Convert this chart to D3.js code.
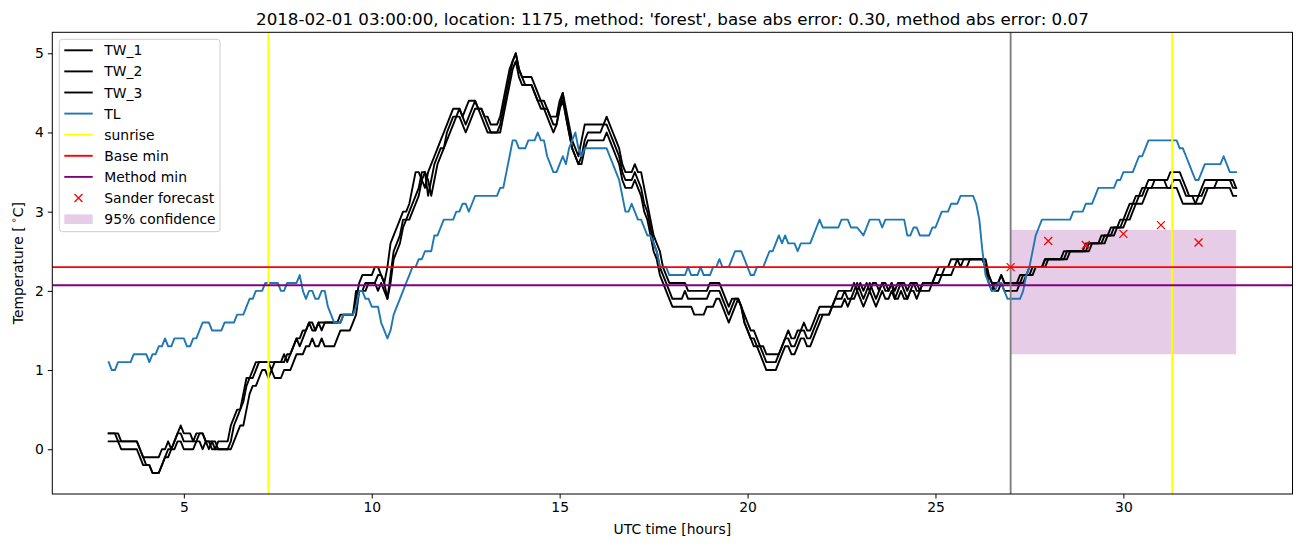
<!DOCTYPE html>
<html><head><meta charset="utf-8">
<script src="https://cdn.jsdelivr.net/npm/d3@7"></script>
<style>
body{margin:0;background:#fff;}
text{font-family:"DejaVu Sans",sans-serif;fill:#000;}
</style></head>
<body><svg id="c" width="1302" height="547"></svg>
<script>
// ---- data (hour of day UTC, temperature °C) ----
const tw1 = [[3.0,0.2],[3.25,0.2],[3.333,0.1],[3.75,0.1],[3.833,0.0],[3.917,-0.1],[4.333,-0.1],[4.417,0.0],[4.5,0.0],[4.583,0.1],[4.667,0.0],[4.75,0.1],[4.833,0.2],[4.917,0.3],[5.0,0.2],[5.167,0.2],[5.25,0.1],[5.333,0.2],[5.5,0.2],[5.583,0.1],[5.75,0.1],[5.833,0.0],[5.917,0.1],[6.167,0.1],[6.25,0.3],[6.333,0.4],[6.417,0.5],[6.5,0.5],[6.583,0.7],[6.667,0.9],[6.75,0.9],[6.833,1.0],[6.917,1.1],[7.583,1.1],[7.667,1.2],[7.75,1.1],[7.833,1.2],[7.917,1.3],[8.0,1.4],[8.083,1.4],[8.167,1.5],[8.25,1.5],[8.333,1.6],[8.417,1.6],[8.5,1.5],[8.583,1.6],[9.083,1.6],[9.167,1.7],[9.5,1.7],[9.583,1.9],[9.667,2.1],[9.75,2.2],[10.0,2.2],[10.083,2.3],[10.167,2.3],[10.25,2.2],[10.333,2.1],[10.417,2.3],[10.5,2.6],[10.583,2.7],[10.667,2.8],[10.75,2.9],[10.833,3.0],[10.917,3.0],[11.0,3.1],[11.083,3.3],[11.167,3.5],[11.25,3.5],[11.333,3.4],[11.417,3.3],[11.5,3.5],[11.583,3.6],[11.667,3.7],[11.75,3.8],[11.833,3.9],[11.917,4.0],[12.0,4.1],[12.083,4.2],[12.167,4.3],[12.333,4.3],[12.417,4.2],[12.5,4.3],[12.583,4.4],[12.75,4.4],[12.833,4.3],[12.917,4.3],[13.0,4.2],[13.083,4.2],[13.167,4.1],[13.333,4.1],[13.417,4.2],[13.5,4.4],[13.583,4.6],[13.667,4.8],[13.75,4.9],[13.833,5.0],[13.917,4.8],[14.0,4.7],[14.25,4.7],[14.333,4.6],[14.417,4.5],[14.5,4.4],[14.583,4.4],[14.667,4.3],[14.75,4.2],[14.917,4.2],[15.0,4.4],[15.083,4.5],[15.167,4.3],[15.25,4.1],[15.333,3.9],[15.417,3.8],[15.5,3.7],[15.583,3.9],[15.667,4.1],[16.167,4.1],[16.25,4.2],[16.333,4.1],[16.417,4.0],[16.5,3.9],[16.583,3.8],[16.667,3.6],[16.75,3.5],[16.917,3.5],[17.0,3.6],[17.083,3.5],[17.167,3.5],[17.25,3.3],[17.333,3.1],[17.417,2.9],[17.5,2.7],[17.583,2.6],[17.667,2.5],[17.75,2.3],[17.833,2.2],[17.917,2.1],[18.333,2.1],[18.417,2.0],[18.917,2.0],[19.0,2.1],[19.25,2.1],[19.333,2.0],[19.417,1.9],[19.5,1.8],[19.583,1.9],[19.75,1.9],[19.833,1.8],[19.917,1.7],[20.0,1.6],[20.083,1.5],[20.167,1.5],[20.25,1.4],[20.333,1.3],[20.417,1.3],[20.5,1.2],[20.833,1.2],[20.917,1.3],[21.0,1.4],[21.083,1.5],[21.167,1.4],[21.25,1.4],[21.333,1.5],[21.417,1.5],[21.5,1.6],[21.583,1.5],[21.667,1.5],[21.75,1.6],[21.833,1.7],[21.917,1.8],[22.25,1.8],[22.333,1.9],[22.417,2.0],[22.75,2.0],[22.833,2.1],[22.917,2.0],[23.0,2.1],[23.083,2.0],[23.167,2.1],[23.25,2.0],[23.333,2.1],[23.417,2.1],[23.5,2.0],[23.583,2.1],[23.667,2.1],[23.75,2.0],[23.833,2.1],[23.917,2.0],[24.0,2.1],[24.167,2.1],[24.25,2.0],[24.333,2.1],[24.5,2.1],[24.583,2.0],[24.667,2.1],[24.917,2.1],[25.0,2.2],[25.083,2.3],[25.333,2.3],[25.417,2.4],[26.25,2.4],[26.333,2.3],[26.417,2.2],[26.5,2.1],[26.667,2.1],[26.75,2.2],[26.833,2.1],[27.25,2.1],[27.333,2.2],[27.5,2.2],[27.583,2.3],[27.833,2.3],[27.917,2.4],[28.333,2.4],[28.417,2.5],[28.917,2.5],[29.0,2.6],[29.333,2.6],[29.417,2.7],[29.583,2.7],[29.667,2.8],[29.833,2.8],[29.917,2.9],[30.0,2.9],[30.083,3.0],[30.167,3.1],[30.25,3.1],[30.333,3.2],[30.417,3.2],[30.5,3.3],[30.583,3.3],[30.667,3.4],[31.167,3.4],[31.25,3.5],[31.5,3.5],[31.583,3.4],[31.667,3.3],[31.75,3.2],[32.0,3.2],[32.083,3.3],[32.167,3.4],[32.917,3.4],[33.0,3.3]];

const tw2 = [[3.0,0.2],[3.167,0.2],[3.25,0.1],[3.333,0.0],[3.75,0.0],[3.833,-0.1],[3.917,-0.2],[4.083,-0.2],[4.167,-0.3],[4.333,-0.3],[4.417,-0.2],[4.5,-0.1],[4.583,0.0],[4.667,0.0],[4.75,0.1],[4.833,0.2],[4.917,0.2],[5.0,0.1],[5.333,0.1],[5.417,0.2],[5.5,0.2],[5.583,0.1],[5.667,0.0],[5.75,0.1],[5.833,0.1],[5.917,0.0],[6.167,0.0],[6.25,0.1],[6.333,0.3],[6.417,0.4],[6.5,0.5],[6.583,0.6],[6.667,0.8],[6.75,0.9],[6.833,0.9],[6.917,1.0],[7.0,1.1],[7.25,1.1],[7.333,1.0],[7.417,1.1],[7.667,1.1],[7.75,1.2],[7.833,1.2],[7.917,1.3],[8.0,1.4],[8.083,1.3],[8.167,1.4],[8.25,1.5],[8.333,1.6],[8.417,1.5],[8.5,1.5],[8.583,1.6],[8.667,1.5],[8.75,1.6],[9.167,1.6],[9.25,1.7],[9.5,1.7],[9.583,2.0],[9.75,2.0],[9.833,2.1],[10.083,2.1],[10.167,2.2],[10.25,2.2],[10.333,2.1],[10.417,1.9],[10.5,2.2],[10.583,2.5],[10.667,2.6],[10.75,2.7],[10.833,2.9],[10.917,2.9],[11.0,3.0],[11.083,3.1],[11.167,3.2],[11.25,3.3],[11.333,3.5],[11.417,3.5],[11.5,3.2],[11.583,3.4],[11.667,3.6],[11.75,3.7],[11.833,3.8],[11.917,3.8],[12.0,4.0],[12.083,4.1],[12.167,4.2],[12.25,4.2],[12.333,4.3],[12.417,4.2],[12.5,4.1],[12.583,4.2],[12.667,4.3],[12.75,4.4],[12.833,4.3],[12.917,4.3],[13.0,4.2],[13.083,4.1],[13.167,4.0],[13.333,4.0],[13.417,4.1],[13.5,4.3],[13.583,4.5],[13.667,4.7],[13.75,4.9],[13.833,5.0],[13.917,4.8],[14.0,4.7],[14.083,4.6],[14.25,4.6],[14.333,4.5],[14.417,4.4],[14.5,4.4],[14.583,4.3],[14.667,4.3],[14.75,4.2],[14.833,4.1],[14.917,4.1],[15.0,4.3],[15.083,4.5],[15.167,4.2],[15.25,4.0],[15.333,3.8],[15.417,3.7],[15.5,3.6],[15.583,3.7],[15.667,3.9],[15.75,4.0],[16.083,4.0],[16.167,4.1],[16.25,4.1],[16.333,4.0],[16.417,3.9],[16.5,3.8],[16.583,3.7],[16.667,3.5],[16.75,3.4],[16.917,3.4],[17.0,3.5],[17.083,3.4],[17.167,3.3],[17.25,3.1],[17.333,3.0],[17.417,2.8],[17.5,2.6],[17.583,2.5],[17.667,2.3],[17.75,2.2],[17.833,2.1],[17.917,2.0],[18.0,1.9],[18.25,1.9],[18.333,2.0],[18.417,1.9],[18.917,1.9],[19.0,2.0],[19.25,2.0],[19.333,1.9],[19.417,1.8],[19.5,1.7],[19.583,1.8],[19.667,1.9],[19.75,1.9],[19.833,1.8],[19.917,1.6],[20.0,1.5],[20.083,1.4],[20.167,1.4],[20.25,1.3],[20.333,1.3],[20.417,1.2],[20.5,1.1],[20.75,1.1],[20.833,1.2],[20.917,1.3],[21.0,1.4],[21.083,1.4],[21.167,1.3],[21.25,1.3],[21.333,1.4],[21.417,1.5],[21.5,1.5],[21.583,1.4],[21.667,1.4],[21.75,1.5],[21.833,1.6],[21.917,1.7],[22.167,1.7],[22.25,1.8],[22.333,1.9],[22.5,1.9],[22.583,2.0],[22.667,1.9],[22.75,1.9],[22.833,2.0],[22.917,2.1],[23.0,2.0],[23.083,1.9],[23.167,2.0],[23.25,2.1],[23.333,2.0],[23.417,1.9],[23.5,2.0],[23.583,2.1],[23.667,2.0],[23.75,2.0],[23.833,2.1],[23.917,1.9],[24.0,2.0],[24.083,2.1],[24.167,2.0],[24.25,1.9],[24.333,2.0],[24.417,2.1],[24.5,2.0],[24.583,2.0],[24.667,2.1],[24.917,2.1],[25.0,2.2],[25.167,2.2],[25.25,2.3],[25.5,2.3],[25.583,2.4],[25.667,2.3],[25.75,2.4],[26.25,2.4],[26.333,2.3],[26.417,2.1],[26.5,2.0],[26.583,2.1],[26.667,2.1],[26.75,2.2],[26.833,2.1],[27.167,2.1],[27.25,2.2],[27.417,2.2],[27.5,2.3],[27.833,2.3],[27.917,2.4],[28.417,2.4],[28.5,2.5],[29.0,2.5],[29.083,2.6],[29.417,2.6],[29.5,2.7],[29.667,2.7],[29.75,2.8],[29.917,2.8],[30.0,2.9],[30.083,2.9],[30.167,3.0],[30.25,3.1],[30.333,3.1],[30.417,3.2],[30.5,3.2],[30.583,3.3],[30.75,3.3],[30.833,3.4],[31.083,3.4],[31.167,3.3],[31.25,3.3],[31.333,3.4],[31.5,3.4],[31.583,3.3],[31.667,3.2],[31.833,3.2],[31.917,3.1],[32.083,3.1],[32.167,3.2],[32.25,3.3],[32.417,3.3],[32.5,3.4],[32.833,3.4],[32.917,3.3],[33.0,3.3]];

const tw3 = [[3.0,0.1],[3.75,0.1],[3.833,0.0],[3.917,-0.1],[4.0,-0.2],[4.083,-0.2],[4.167,-0.3],[4.333,-0.3],[4.417,-0.2],[4.5,-0.1],[4.583,-0.1],[4.667,0.0],[4.75,0.0],[4.833,0.1],[4.917,0.1],[5.0,0.0],[5.25,0.0],[5.333,0.1],[5.417,0.1],[5.5,0.0],[5.583,0.1],[5.667,0.1],[5.75,0.0],[6.25,0.0],[6.333,0.1],[6.417,0.2],[6.5,0.3],[6.583,0.3],[6.667,0.5],[6.75,0.7],[6.833,0.8],[6.917,0.8],[7.0,0.9],[7.083,1.0],[7.167,1.0],[7.25,0.9],[7.333,1.0],[7.417,0.9],[7.583,0.9],[7.667,1.0],[7.833,1.0],[7.917,1.1],[8.0,1.2],[8.167,1.2],[8.25,1.3],[8.333,1.3],[8.417,1.4],[8.5,1.3],[8.583,1.3],[8.667,1.4],[8.75,1.3],[9.0,1.3],[9.083,1.4],[9.167,1.5],[9.417,1.5],[9.5,1.6],[9.583,1.7],[9.667,2.0],[9.833,2.0],[9.917,2.1],[10.083,2.1],[10.167,2.0],[10.25,2.1],[10.333,2.0],[10.417,1.9],[10.5,2.1],[10.583,2.4],[10.667,2.5],[10.75,2.6],[10.833,2.8],[10.917,2.9],[11.0,2.9],[11.083,3.0],[11.167,3.1],[11.25,3.2],[11.333,3.4],[11.417,3.5],[11.5,3.4],[11.583,3.2],[11.667,3.4],[11.75,3.6],[11.833,3.7],[11.917,3.8],[12.0,3.9],[12.083,4.0],[12.167,4.1],[12.25,4.2],[12.333,4.2],[12.417,4.1],[12.5,4.0],[12.583,4.1],[12.667,4.2],[12.75,4.3],[12.833,4.3],[12.917,4.2],[13.0,4.1],[13.083,4.0],[13.417,4.0],[13.5,4.2],[13.583,4.4],[13.667,4.6],[13.75,4.8],[13.833,4.9],[13.917,4.7],[14.0,4.6],[14.25,4.6],[14.333,4.5],[14.417,4.4],[14.5,4.3],[14.583,4.3],[14.667,4.2],[14.75,4.1],[14.833,4.0],[14.917,4.1],[15.0,4.3],[15.083,4.4],[15.167,4.2],[15.25,4.0],[15.333,3.8],[15.417,3.7],[15.5,3.6],[15.583,3.6],[15.667,3.8],[15.75,3.9],[16.167,3.9],[16.25,4.0],[16.333,3.9],[16.417,3.8],[16.5,3.7],[16.583,3.6],[16.667,3.4],[16.75,3.3],[16.917,3.3],[17.0,3.4],[17.083,3.3],[17.167,3.2],[17.25,3.0],[17.333,2.9],[17.417,2.7],[17.5,2.5],[17.583,2.4],[17.667,2.2],[17.75,2.1],[17.833,2.0],[17.917,1.9],[18.0,1.8],[18.5,1.8],[18.583,1.7],[18.833,1.7],[18.917,1.8],[19.083,1.8],[19.167,1.9],[19.25,1.9],[19.333,1.8],[19.417,1.7],[19.5,1.6],[19.583,1.7],[19.667,1.8],[19.75,1.9],[19.833,1.8],[19.917,1.6],[20.0,1.5],[20.083,1.4],[20.167,1.3],[20.25,1.3],[20.333,1.2],[20.417,1.1],[20.5,1.0],[20.75,1.0],[20.833,1.1],[20.917,1.2],[21.0,1.3],[21.083,1.3],[21.167,1.2],[21.25,1.2],[21.333,1.3],[21.417,1.4],[21.5,1.4],[21.583,1.3],[21.667,1.3],[21.75,1.4],[21.833,1.5],[21.917,1.6],[22.0,1.7],[22.167,1.7],[22.25,1.8],[22.5,1.8],[22.583,1.9],[22.667,1.8],[22.75,1.9],[22.833,1.9],[22.917,2.0],[23.0,1.9],[23.083,1.8],[23.167,1.9],[23.25,2.0],[23.333,1.9],[23.417,1.8],[23.5,1.9],[23.583,2.0],[23.667,1.9],[23.75,1.9],[23.833,2.0],[23.917,1.9],[24.0,1.9],[24.083,2.0],[24.167,1.9],[24.25,1.9],[24.333,2.0],[24.417,2.0],[24.5,1.9],[24.583,2.0],[24.833,2.0],[24.917,2.1],[25.083,2.1],[25.167,2.2],[25.417,2.2],[25.5,2.3],[25.833,2.3],[25.917,2.4],[26.333,2.4],[26.417,2.2],[26.5,2.1],[26.583,2.0],[26.667,2.0],[26.75,2.1],[26.833,2.0],[27.167,2.0],[27.25,2.1],[27.333,2.1],[27.417,2.2],[27.583,2.2],[27.667,2.3],[27.917,2.3],[28.0,2.4],[28.5,2.4],[28.583,2.5],[29.083,2.5],[29.167,2.6],[29.5,2.6],[29.583,2.7],[29.75,2.7],[29.833,2.8],[30.0,2.8],[30.083,2.9],[30.167,2.9],[30.25,3.0],[30.333,3.1],[30.5,3.1],[30.583,3.2],[30.667,3.3],[31.417,3.3],[31.5,3.2],[31.583,3.1],[31.917,3.1],[32.0,3.2],[32.083,3.2],[32.167,3.3],[32.833,3.3],[32.917,3.2],[33.0,3.2]];

const tl = [[3.0,1.1],[3.083,1.0],[3.167,1.0],[3.25,1.1],[3.583,1.1],[3.667,1.2],[4.0,1.2],[4.083,1.1],[4.167,1.2],[4.25,1.2],[4.333,1.3],[4.417,1.3],[4.5,1.4],[4.583,1.3],[4.667,1.3],[4.75,1.4],[5.0,1.4],[5.083,1.3],[5.167,1.3],[5.25,1.4],[5.333,1.4],[5.417,1.5],[5.5,1.6],[5.667,1.6],[5.75,1.5],[6.0,1.5],[6.083,1.6],[6.333,1.6],[6.417,1.7],[6.583,1.7],[6.667,1.8],[6.75,1.9],[6.833,1.9],[6.917,2.0],[7.083,2.0],[7.167,2.1],[7.5,2.1],[7.583,2.0],[7.667,2.0],[7.75,2.1],[8.0,2.1],[8.083,2.2],[8.167,2.0],[8.25,1.9],[8.333,2.0],[8.417,2.0],[8.5,1.9],[8.583,1.9],[8.667,2.0],[8.75,2.0],[8.833,1.8],[8.917,1.7],[9.0,1.6],[9.167,1.6],[9.25,1.7],[9.5,1.7],[9.583,1.8],[9.667,2.0],[9.75,2.0],[9.833,1.9],[9.917,1.9],[10.0,1.8],[10.167,1.8],[10.25,1.6],[10.333,1.5],[10.417,1.4],[10.5,1.5],[10.583,1.7],[10.667,1.8],[10.75,1.9],[10.833,2.0],[10.917,2.1],[11.0,2.2],[11.083,2.3],[11.167,2.3],[11.25,2.4],[11.333,2.4],[11.417,2.5],[11.583,2.5],[11.667,2.7],[11.75,2.7],[11.833,2.8],[11.917,2.9],[12.167,2.9],[12.25,3.0],[12.333,3.0],[12.417,3.1],[12.5,3.1],[12.583,3.0],[12.667,3.1],[12.75,3.2],[13.333,3.2],[13.417,3.3],[13.5,3.3],[13.583,3.5],[13.667,3.7],[13.75,3.9],[13.833,3.9],[13.917,3.8],[14.083,3.8],[14.167,3.9],[14.333,3.9],[14.417,4.0],[14.5,3.9],[14.583,3.9],[14.667,3.7],[14.75,3.6],[14.833,3.5],[14.917,3.5],[15.0,3.6],[15.083,3.7],[15.167,3.6],[15.25,3.8],[15.333,3.9],[15.417,4.0],[15.5,3.8],[15.583,3.7],[15.667,3.8],[16.25,3.8],[16.333,3.7],[16.417,3.6],[16.5,3.5],[16.583,3.4],[16.667,3.2],[16.75,3.0],[16.833,3.0],[16.917,3.1],[17.0,3.0],[17.083,2.9],[17.167,2.9],[17.25,2.8],[17.333,2.7],[17.417,2.7],[17.5,2.6],[17.583,2.5],[17.667,2.3],[17.833,2.3],[17.917,2.2],[18.333,2.2],[18.417,2.3],[18.5,2.2],[18.667,2.2],[18.75,2.3],[18.833,2.2],[19.0,2.2],[19.083,2.3],[19.167,2.3],[19.25,2.4],[19.333,2.3],[19.5,2.3],[19.583,2.4],[19.667,2.5],[19.833,2.5],[19.917,2.4],[20.0,2.3],[20.083,2.2],[20.167,2.2],[20.25,2.3],[20.417,2.3],[20.5,2.4],[20.583,2.5],[20.667,2.5],[20.75,2.6],[20.833,2.7],[20.917,2.6],[21.0,2.7],[21.083,2.6],[21.25,2.6],[21.333,2.5],[21.417,2.6],[21.667,2.6],[21.75,2.7],[21.833,2.8],[21.917,2.9],[22.0,2.8],[22.417,2.8],[22.5,2.9],[22.667,2.9],[22.75,2.8],[22.917,2.8],[23.083,2.7],[23.167,2.8],[23.25,2.9],[23.5,2.9],[23.583,2.8],[23.667,2.9],[24.167,2.9],[24.25,2.7],[24.333,2.7],[24.417,2.8],[24.5,2.8],[24.583,2.7],[24.833,2.7],[24.917,2.8],[25.0,2.8],[25.083,2.9],[25.167,3.0],[25.333,3.0],[25.417,3.1],[25.583,3.1],[25.667,3.2],[26.0,3.2],[26.083,3.1],[26.167,2.9],[26.25,2.5],[26.333,2.2],[26.417,2.1],[26.5,2.0],[26.583,2.0],[26.667,2.1],[26.75,2.1],[26.833,2.0],[26.917,1.9],[27.25,1.9],[27.333,2.0],[27.417,2.2],[27.5,2.3],[27.583,2.5],[27.667,2.7],[27.75,2.8],[27.833,2.9],[28.583,2.9],[28.667,3.0],[28.917,3.0],[29.0,3.1],[29.167,3.1],[29.25,3.2],[29.333,3.3],[29.75,3.3],[29.833,3.4],[29.917,3.4],[30.0,3.5],[30.25,3.5],[30.333,3.6],[30.417,3.7],[30.5,3.7],[30.583,3.8],[30.667,3.9],[31.417,3.9],[31.5,3.8],[31.583,3.8],[31.667,3.7],[31.75,3.6],[31.833,3.5],[31.917,3.4],[32.0,3.4],[32.083,3.5],[32.167,3.6],[32.583,3.6],[32.667,3.7],[32.75,3.6],[32.833,3.5],[33.0,3.5]];

const sunrise = [7.25, 31.3];
const baseMin = 2.3;
const methodMin = 2.07;
const forecastTime = 27;
const sanderHours = [27, 28, 29, 30, 31, 32];
const sanderValues = [2.30, 2.63, 2.58, 2.72, 2.83, 2.61];
const confHours = [27, 33];
const confRange = [1.2, 2.77];
const xTicks = [5, 10, 15, 20, 25, 30];
const yTicks = [0, 1, 2, 3, 4, 5];
const legendLabels = ["TW_1","TW_2","TW_3","TL","sunrise","Base min","Method min","Sander forecast","95% confidence"];
const titleText = "2018-02-01 03:00:00, location: 1175, method: 'forest', base abs error: 0.30, method abs error: 0.07";

// ---- drawing ----
const svg = d3.select("#c");
const L = 52.3, R = 1292.5, T = 32.3, B = 494;
const x = d3.scaleLinear().domain([1.5, 34.5]).range([L, R]);
const y = d3.scaleLinear().domain([-0.565, 5.265]).range([B, T]);
const FS = "13.9px";

svg.append("defs").append("clipPath").attr("id","clip")
  .append("rect").attr("x",L).attr("y",T).attr("width",R-L).attr("height",B-T);
const g = svg.append("g").attr("clip-path","url(#clip)");

// confidence band
g.append("rect")
  .attr("x", x(confHours[0])).attr("width", x(confHours[1]) - x(confHours[0]))
  .attr("y", y(confRange[1])).attr("height", y(confRange[0]) - y(confRange[1]))
  .attr("fill", "purple").attr("fill-opacity", 0.2);

const line = d3.line().x(d => x(d[0])).y(d => y(d[1]));
[[tw1,"#000"],[tw2,"#000"],[tw3,"#000"],[tl,"#1f77b4"]].forEach(([d,c]) => {
  g.append("path").datum(d).attr("d", line).attr("fill","none")
   .attr("stroke", c).attr("stroke-width", 1.9).attr("stroke-linejoin","round").attr("stroke-linecap","square");
});

sunrise.forEach(s => g.append("line").attr("x1",x(s)).attr("x2",x(s)).attr("y1",T).attr("y2",B)
  .attr("stroke","#ffff00").attr("stroke-width",1.9));
g.append("line").attr("x1",L).attr("x2",R).attr("y1",y(baseMin)).attr("y2",y(baseMin))
  .attr("stroke","red").attr("stroke-width",1.9);
g.append("line").attr("x1",L).attr("x2",R).attr("y1",y(methodMin)).attr("y2",y(methodMin))
  .attr("stroke","purple").attr("stroke-width",1.9);
g.append("line").attr("x1",x(forecastTime)).attr("x2",x(forecastTime)).attr("y1",T).attr("y2",B)
  .attr("stroke","grey").attr("stroke-width",1.9);

function cross(sel, cx, cy, r) {
  sel.append("path").attr("d", `M${cx-r},${cy-r}L${cx+r},${cy+r}M${cx-r},${cy+r}L${cx+r},${cy-r}`)
    .attr("stroke","red").attr("stroke-width",1.3).attr("fill","none");
}
sanderHours.forEach((h,i) => cross(g, x(h), y(sanderValues[i]), 4));

// axes
const xAxis = svg.append("g").attr("transform", `translate(0,${B})`)
  .call(d3.axisBottom(x).tickValues(xTicks).tickSize(4.5).tickPadding(4).tickFormat(d3.format("d")));
const yAxis = svg.append("g").attr("transform", `translate(${L},0)`)
  .call(d3.axisLeft(y).tickValues(yTicks).tickSize(4.5).tickPadding(4).tickFormat(d3.format("d")));
[xAxis, yAxis].forEach(a => {
  a.select(".domain").remove();
  a.selectAll("line").attr("stroke","#000").attr("stroke-width",1);
  a.selectAll("text").attr("font-family","DejaVu Sans").attr("font-size",FS).attr("fill","#000");
});
svg.append("rect").attr("x",L).attr("y",T).attr("width",R-L).attr("height",B-T)
  .attr("fill","none").attr("stroke","#000").attr("stroke-width",1);

// labels
svg.append("text").attr("x",(L+R)/2).attr("y",24.5).attr("text-anchor","middle")
  .attr("font-size","16.7px").text(titleText);
svg.append("text").attr("x",(L+R)/2).attr("y",534).attr("text-anchor","middle")
  .attr("font-size",FS).text("UTC time [hours]");
const yl = svg.append("text").attr("transform",`translate(22.5,${(T+B)/2}) rotate(-90)`)
  .attr("text-anchor","middle").attr("font-size",FS);
yl.append("tspan").text("Temperature [");
yl.append("tspan").attr("font-size","9.7px").attr("dy","-5.5").text(" ∘");
yl.append("tspan").attr("dy","5.5").text("C]");

// legend
const lg = svg.append("g");
lg.append("rect").attr("x",59.3).attr("y",39.3).attr("width",160.7).attr("height",192.4)
  .attr("rx",3).attr("fill","#fff").attr("fill-opacity",0.8).attr("stroke","#cccccc").attr("stroke-width",1);
const legColors = ["#000","#000","#000","#1f77b4","#ffff00","red","purple"];
legendLabels.forEach((lab,i) => {
  const cy = 50.3 + i*21.1;
  if (i < 7) {
    lg.append("line").attr("x1",64.3).attr("x2",92.7).attr("y1",cy).attr("y2",cy)
      .attr("stroke",legColors[i]).attr("stroke-width",1.9);
  } else if (i === 7) {
    cross(lg, 78.5, cy, 4);
  } else {
    lg.append("rect").attr("x",64.3).attr("y",cy-4.7).attr("width",28.4).attr("height",9.6)
      .attr("fill","purple").attr("fill-opacity",0.2);
  }
  lg.append("text").attr("x",104.3).attr("y",cy+5).attr("font-size",FS).text(lab);
});
</script></body></html>
